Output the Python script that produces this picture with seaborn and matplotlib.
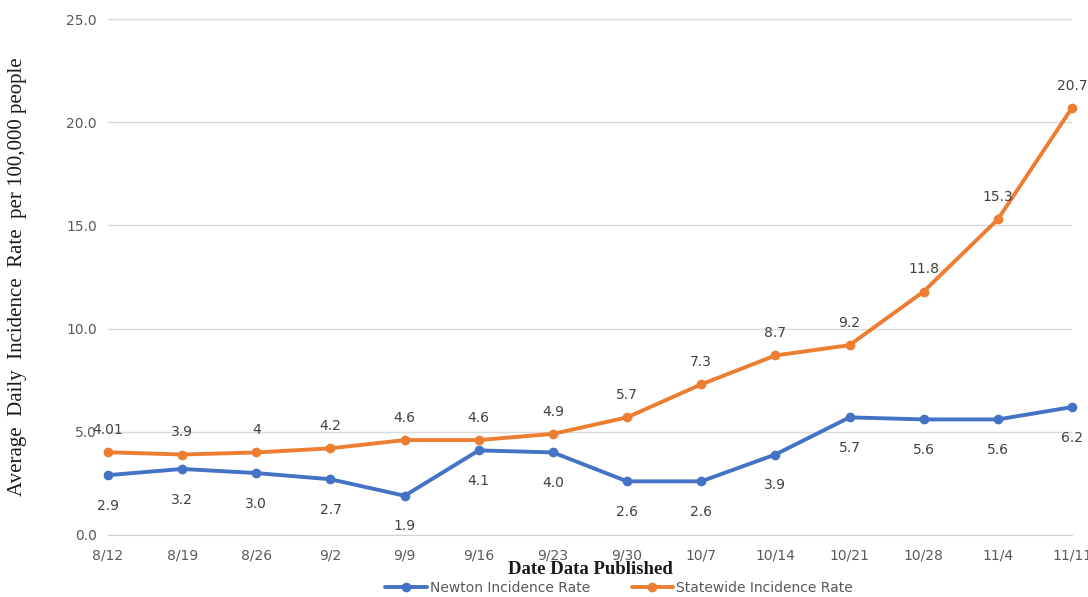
import pandas as pd
import matplotlib.pyplot as plt
import seaborn as sns

dates = ["8/12", "8/19", "8/26", "9/2", "9/9", "9/16", "9/23", "9/30",
         "10/7", "10/14", "10/21", "10/28", "11/4", "11/11"]
newton = [2.9, 3.2, 3.0, 2.7, 1.9, 4.1, 4.0, 2.6, 2.6, 3.9, 5.7, 5.6, 5.6, 6.2]
statewide = [4.01, 3.9, 4, 4.2, 4.6, 4.6, 4.9, 5.7, 7.3, 8.7, 9.2, 11.8, 15.3, 20.7]
newton_lbl = ["2.9", "3.2", "3.0", "2.7", "1.9", "4.1", "4.0", "2.6", "2.6", "3.9",
              "5.7", "5.6", "5.6", "6.2"]
state_lbl = ["4.01", "3.9", "4", "4.2", "4.6", "4.6", "4.9", "5.7", "7.3", "8.7",
             "9.2", "11.8", "15.3", "20.7"]

n = len(dates)
df = pd.DataFrame({
    "idx": list(range(n)) * 2,
    "rate": newton + statewide,
    "series": ["Newton Incidence Rate"] * n + ["Statewide Incidence Rate"] * n,
})

sns.set_style("white")
plt.rcParams['font.family'] = ['DejaVu Sans']

fig = plt.figure(figsize=(10.88, 5.97), dpi=100)
ax = fig.add_axes([0.0993, 0.1039, 0.886, 0.864])

palette = {"Newton Incidence Rate": "#4472C4", "Statewide Incidence Rate": "#ED7D31"}
sns.lineplot(data=df, x="idx", y="rate", hue="series", palette=palette,
             marker="o", markersize=7, markeredgewidth=0, linewidth=2.8,
             ax=ax, clip_on=False)

ax.set_xlim(0, n - 1)
ax.set_ylim(0, 25)
ax.set_yticks([0, 5, 10, 15, 20, 25])
ax.set_yticklabels([f"{v:.1f}" for v in [0, 5, 10, 15, 20, 25]])
ax.set_xticks(range(n))
ax.set_xticklabels(dates)
ax.tick_params(axis="both", colors="#595959", labelsize=10, length=0, pad=8)
ax.tick_params(axis="x", length=4, color="#d0d0d0", pad=6)
ax.yaxis.grid(True, color="#d9d9d9", linewidth=1)
for s in ["top", "right", "left"]:
    ax.spines[s].set_visible(False)
ax.spines["bottom"].set_color("#d0d0d0")
ax.set_axisbelow(True)

for i in range(n):
    ax.annotate(newton_lbl[i], (i, newton[i]), xytext=(0, -22), textcoords="offset points",
                ha="center", va="center", fontsize=10, color="#404040")
    ax.annotate(state_lbl[i], (i, statewide[i]), xytext=(0, 16), textcoords="offset points",
                ha="center", va="center", fontsize=10, color="#404040")

ax.set_xlabel("Date Data Published", fontfamily="Liberation Serif", fontweight="bold",
              fontsize=13.5, color="#1a1a1a", labelpad=-1)
ax.set_ylabel("Average  Daily  Incidence  Rate  per 100,000 people",
              fontfamily="Liberation Serif", fontsize=15, color="#1a1a1a", labelpad=28)

leg = ax.legend(loc="center", bbox_to_anchor=(0.53, -0.103), ncol=2, frameon=False,
                fontsize=10, handlelength=3, columnspacing=3, handletextpad=0.2)
for t in leg.get_texts():
    t.set_color("#595959")

fig.savefig("out.png", dpi=100)
